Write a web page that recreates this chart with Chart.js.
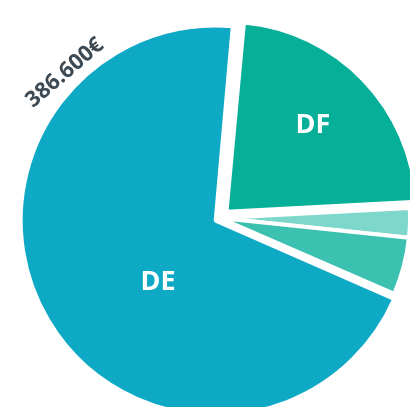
<!DOCTYPE html>
<html>
<head>
<meta charset="utf-8">
<script src="https://cdn.jsdelivr.net/npm/chart.js@4/dist/chart.umd.min.js"></script>
<style>
html, body { margin: 0; padding: 0; width: 410px; height: 407px; overflow: hidden; background: #fff; }
#wrap { position: absolute; left: 10px; top: 8px; width: 420px; height: 420px; }
</style>
</head>
<body>
<div id="wrap"><canvas id="chart"></canvas></div>
<script>
// slices, clockwise from the DE slice
const sliceNames = ['DE', 'DF', '', ''];
const sliceValues = [386600, 125500, 13800, 26900];
const sliceColors = ['#0ea9c5', '#05af98', '#7dd7ca', '#3cc1b1'];
const sliceOffsets = [20, 36, 0, 0];

// which slice gets its amount written outside the pie
const amountSlice = 0;

// where a label sits: share of the slice angle, share of the radius
const namePlace = [[0.4346, 0.446], [0.485, 0.645]];
const amountPlace = [0.798, 1.111];

function sliceCenter(arc, i) {
    // chart.js moves an offset slice by a quarter of its offset
    const mid = (arc.startAngle + arc.endAngle) / 2;
    const shift = sliceOffsets[i] / 4;
    return [arc.x + Math.cos(mid) * shift, arc.y + Math.sin(mid) * shift];
}

const sliceLabels = {
    id: 'sliceLabels',
    afterDatasetsDraw(chart) {
        const ctx = chart.ctx;
        const arcs = chart.getDatasetMeta(0).data;
        ctx.save();
        ctx.textAlign = 'center';
        ctx.textBaseline = 'middle';
        ctx.font = '700 27px "Open Sans"';
        ctx.fillStyle = '#ffffff';
        arcs.forEach((arc, i) => {
            if (!sliceNames[i]) return;
            const [cx, cy] = sliceCenter(arc, i);
            const [t, f] = namePlace[i];
            const a = arc.startAngle + (arc.endAngle - arc.startAngle) * t;
            ctx.fillText(sliceNames[i], cx + Math.cos(a) * arc.outerRadius * f, cy + Math.sin(a) * arc.outerRadius * f);
        });

        // amount along the rim
        const arc = arcs[amountSlice];
        const [cx, cy] = sliceCenter(arc, amountSlice);
        const a = arc.startAngle + (arc.endAngle - arc.startAngle) * amountPlace[0];
        const r = arc.outerRadius * amountPlace[1];
        ctx.translate(cx + Math.cos(a) * r, cy + Math.sin(a) * r);
        ctx.rotate(a + Math.PI / 2 + 0.09);
        ctx.font = '700 22px "Open Sans"';
        ctx.fillStyle = '#3d4a53';
        ctx.fillText(sliceValues[amountSlice].toLocaleString('de-DE') + '€', 0, 0);
        ctx.restore();
    }
};

const ctx = document.getElementById('chart').getContext('2d');
new Chart(ctx, {
    type: 'pie',
    data: {
        labels: sliceNames,
        datasets: [{
            data: sliceValues,
            backgroundColor: sliceColors,
            borderColor: '#ffffff',
            borderWidth: 4,
            offset: sliceOffsets,
            hoverOffset: 0
        }]
    },
    options: {
        responsive: true,
        maintainAspectRatio: false,
        animation: false,
        rotation: 113.5,
        layout: { padding: 0 },
        plugins: {
            legend: { display: false },
            tooltip: { enabled: false }
        }
    },
    plugins: [sliceLabels]
});
</script>
</body>
</html>
